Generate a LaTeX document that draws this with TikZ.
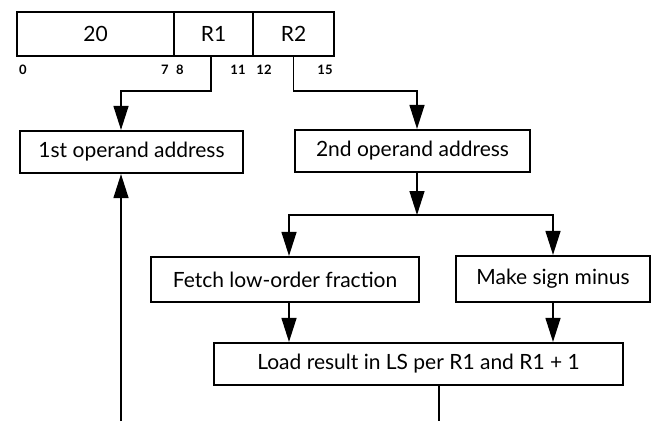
\documentclass[tikz,border=0pt]{standalone}
\usepackage{fontspec}
\setmainfont{Lato}
\usepackage{tikz}
\usetikzlibrary{arrows.meta,calc,positioning}

\tikzset{
  stepbox/.style={draw,line width=2.2pt,inner sep=0pt,minimum height=42pt},
  fieldbox/.style={draw,line width=1.8pt,inner sep=0pt,minimum height=44pt},
  bitlabel/.style={font=\fontsize{13}{14}\selectfont\bfseries,inner sep=0pt},
  link/.style={line width=1.4pt},
  arrow/.style={line width=1.4pt,-{Triangle[length=24pt,width=15pt]}}
}

\begin{document}
\begin{tikzpicture}[x=1pt,y=-1pt,font=\fontsize{21}{25}\selectfont]
\useasboundingbox (0,0) rectangle (652,421);
\node[fieldbox,minimum width=157pt] (opcode) at (95.5,34) {20};
\node[fieldbox,minimum width=79pt] (r1) at (213.5,34) {R1};
\node[fieldbox,minimum width=81pt] (r2) at (293.5,34) {R2};
\foreach \pos/\num in {23/0,165/7,180/8,238/11,264/12,325/15}
  \node[bitlabel] (bit\num) at (\pos,70) {\num};
\node[stepbox,minimum width=223pt] (first) at (131.5,152) {1st operand address};
\node[stepbox,minimum width=235pt] (second) at (412.5,151) {2nd operand address};
\node[stepbox,minimum width=268pt,minimum height=45pt] (fetch) at (285,279.5) {Fetch low-order fraction};
\node[stepbox,minimum width=194pt,minimum height=46pt] (sign) at (553,279) {Make sign minus};
\node[stepbox,minimum width=409pt] (load) at (418.5,364) {Load result in LS per R1 and R1 + 1};
\coordinate (split) at (417,215);
\coordinate (loopback) at (121,421);
\coordinate (exit) at (439,421);
\draw[arrow] ([xshift=-2.5pt]r1.south) -- ++(0,34) -| (first.north -| loopback);
\draw[arrow] (r2.south) -- ++(0,34) -| (second.north -| split);
\draw[arrow] (second.south -| split) -- (split);
\draw[arrow] (split) -| ([xshift=4pt]fetch.north);
\draw[arrow] (split) -| (sign.north);
\draw[arrow] ([xshift=4pt]fetch.south) -- ([xshift=4pt]fetch.south |- load.north);
\draw[arrow] (sign.south) -- (sign.south |- load.north);
\draw[link] (load.south -| exit) -- (exit);
\draw[arrow] (loopback) -- (loopback |- first.south);
\end{tikzpicture}
\end{document}
